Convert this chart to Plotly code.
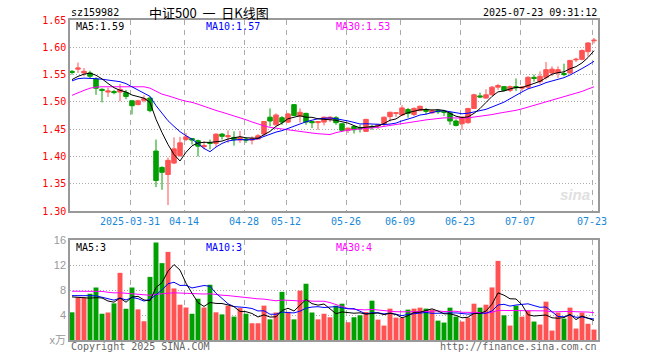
import pandas as pd
import plotly.graph_objects as go

# ---------------- data ----------------
holidays = ["2025-04-04", "2025-05-01", "2025-05-02", "2025-05-05", "2025-06-02"]
dates = [d.strftime("%Y-%m-%d") for d in pd.bdate_range("2025-03-17", "2025-07-23")
         if d.strftime("%Y-%m-%d") not in holidays]

open_ = [1.556, 1.560, 1.553, 1.553, 1.542, 1.523, 1.518, 1.519, 1.518, 1.517,
         1.502, 1.495, 1.503, 1.507, 1.410, 1.380, 1.367, 1.388, 1.402, 1.431,
         1.433, 1.429, 1.418, 1.425, 1.424, 1.441, 1.436, 1.435, 1.430, 1.432,
         1.430, 1.432, 1.441, 1.472, 1.458, 1.471, 1.463, 1.495, 1.474, 1.479,
         1.464, 1.462, 1.463, 1.468, 1.471, 1.460, 1.448, 1.455, 1.453, 1.446,
         1.455, 1.456, 1.460, 1.473, 1.479, 1.476, 1.486, 1.477, 1.484, 1.485,
         1.480, 1.484, 1.483, 1.480, 1.465, 1.460, 1.462, 1.488, 1.511, 1.507,
         1.513, 1.527, 1.528, 1.521, 1.528, 1.525, 1.527, 1.545, 1.537, 1.545,
         1.553, 1.553, 1.552, 1.553, 1.577, 1.578, 1.592, 1.612]
high = [1.558, 1.572, 1.562, 1.557, 1.545, 1.525, 1.526, 1.522, 1.533, 1.522,
        1.503, 1.504, 1.512, 1.510, 1.431, 1.382, 1.398, 1.435, 1.436, 1.443,
        1.434, 1.431, 1.428, 1.431, 1.442, 1.443, 1.448, 1.446, 1.447, 1.435,
        1.437, 1.441, 1.465, 1.488, 1.479, 1.474, 1.480, 1.496, 1.488, 1.480,
        1.465, 1.465, 1.473, 1.474, 1.474, 1.461, 1.453, 1.456, 1.458, 1.469,
        1.458, 1.460, 1.473, 1.482, 1.481, 1.494, 1.489, 1.490, 1.493, 1.489,
        1.486, 1.486, 1.484, 1.483, 1.468, 1.473, 1.489, 1.515, 1.517, 1.523,
        1.529, 1.533, 1.529, 1.530, 1.543, 1.529, 1.547, 1.550, 1.556, 1.573,
        1.565, 1.565, 1.570, 1.577, 1.581, 1.596, 1.609, 1.617]
low = [1.550, 1.553, 1.547, 1.543, 1.513, 1.499, 1.509, 1.514, 1.501, 1.505,
       1.477, 1.494, 1.499, 1.481, 1.344, 1.339, 1.311, 1.386, 1.399, 1.428,
       1.422, 1.400, 1.413, 1.413, 1.418, 1.431, 1.425, 1.420, 1.425, 1.425,
       1.422, 1.431, 1.437, 1.455, 1.457, 1.458, 1.461, 1.474, 1.462, 1.458,
       1.452, 1.449, 1.457, 1.463, 1.458, 1.446, 1.443, 1.442, 1.444, 1.445,
       1.449, 1.450, 1.455, 1.464, 1.472, 1.474, 1.471, 1.474, 1.483, 1.477,
       1.478, 1.478, 1.474, 1.458, 1.455, 1.449, 1.460, 1.487, 1.507, 1.506,
       1.512, 1.522, 1.519, 1.518, 1.520, 1.520, 1.524, 1.537, 1.533, 1.541,
       1.547, 1.544, 1.547, 1.551, 1.573, 1.576, 1.583, 1.607]
close = [1.554, 1.562, 1.556, 1.547, 1.525, 1.521, 1.520, 1.517, 1.523, 1.510,
         1.493, 1.502, 1.506, 1.484, 1.356, 1.371, 1.393, 1.414, 1.425, 1.436,
         1.430, 1.419, 1.420, 1.424, 1.441, 1.437, 1.438, 1.431, 1.435, 1.430,
         1.433, 1.438, 1.464, 1.465, 1.476, 1.463, 1.478, 1.475, 1.481, 1.463,
         1.462, 1.464, 1.472, 1.472, 1.462, 1.448, 1.452, 1.449, 1.451, 1.468,
         1.453, 1.458, 1.472, 1.481, 1.480, 1.489, 1.479, 1.488, 1.492, 1.483,
         1.484, 1.482, 1.481, 1.465, 1.457, 1.472, 1.488, 1.513, 1.509, 1.513,
         1.527, 1.530, 1.521, 1.528, 1.526, 1.527, 1.545, 1.543, 1.547, 1.559,
         1.560, 1.559, 1.550, 1.576, 1.578, 1.594, 1.608, 1.613]
volume = [4.43, 6.82, 6.80, 7.40, 8.40, 4.20, 4.40, 5.86, 10.75, 5.00,
          8.40, 4.90, 3.00, 10.10, 15.60, 12.30, 14.10, 8.25, 5.65, 5.20,
          4.20, 6.60, 5.20, 8.84, 4.43, 4.10, 5.50, 3.74, 5.10, 4.20,
          2.68, 2.68, 5.50, 3.30, 4.40, 7.70, 4.50, 3.30, 7.90, 9.00,
          4.40, 3.30, 4.20, 3.64, 5.49, 5.81, 2.84, 3.64, 3.95, 4.48,
          6.29, 3.26, 2.31, 5.02, 3.58, 3.58, 4.86, 5.02, 5.18, 5.02,
          4.86, 3.10, 2.79, 5.18, 3.74, 2.95, 3.58, 5.81, 5.18, 5.65,
          8.41, 12.66, 3.95, 2.31, 5.49, 3.74, 4.70, 2.95, 2.47, 6.13,
          1.51, 4.39, 3.42, 5.18, 1.83, 4.39, 2.60, 1.67]
# sessions before the visible window (estimated from the starting MA lines)
hist_close = [1.412, 1.436, 1.427, 1.465, 1.503, 1.520, 1.517, 1.523, 1.510, 1.493,
              1.502, 1.506, 1.559, 1.536, 1.521, 1.483, 1.534, 1.515, 1.526, 1.490,
              1.522, 1.546, 1.547, 1.535, 1.531, 1.532, 1.536, 1.537, 1.545]
hist_volume = [6.8, 6.8, 7.4, 8.4, 5.0, 8.5, 9.0, 10.0, 8.0, 10.5,
               8.0, 6.0, 11.0, 11.0, 9.3, 11.1, 6.75, 7.15, 6.7, 5.7,
               6.5, 7.0, 7.6, 8.6, 6.8, 7.3, 7.3, 7.4, 8.05]
tick_dates = ["2025-03-31", "2025-04-14", "2025-04-28", "2025-05-12", "2025-05-26",
              "2025-06-09", "2025-06-23", "2025-07-07", "2025-07-23"]
price_ticks = [1.30, 1.35, 1.40, 1.45, 1.50, 1.55, 1.60, 1.65]
vol_ticks = [0, 4, 8, 12, 16]

# ---------------- helpers ----------------
def moving_avg(hist, vals, n):
    s = pd.Series(list(hist) + list(vals))
    return s.rolling(n).mean().iloc[len(hist):].tolist()

RED = "#ff5252"
GREEN = "#00a000"
BLUE = "#0000ff"
MAG = "#ff00ff"
MONO = "DejaVu Sans Mono"

W, H = 660, 360
L, R, T, B = 70, 62, 20, 20
PW, PH = W - L - R, H - T - B

def px(xp):
    return (xp - L) / PW

def py(yp):
    return (H - B - yp) / PH

n = len(dates)
x = list(range(n))
ma5 = moving_avg(hist_close, close, 5)
ma10 = moving_avg(hist_close, close, 10)
ma30 = moving_avg(hist_close, close, 30)
vma5 = moving_avg(hist_volume, volume, 5)
vma10 = moving_avg(hist_volume, volume, 10)
vma30 = moving_avg(hist_volume, volume, 30)
bar_colors = [RED if c >= o else GREEN for o, c in zip(open_, close)]

fig = go.Figure()
fig.add_trace(go.Candlestick(
    x=x, open=open_, high=high, low=low, close=close,
    increasing=dict(line=dict(color=RED, width=1), fillcolor=RED),
    decreasing=dict(line=dict(color=GREEN, width=1), fillcolor=GREEN),
    whiskerwidth=0, xaxis="x", yaxis="y", hoverinfo="skip"))
for vals, col in [(ma30, MAG), (ma10, BLUE), (ma5, "black")]:
    fig.add_trace(go.Scatter(x=x, y=vals, mode="lines", line=dict(color=col, width=1),
                             xaxis="x", yaxis="y", hoverinfo="skip"))
fig.add_trace(go.Bar(x=x, y=volume, marker=dict(color=bar_colors, line=dict(width=0)),
                     width=0.82, xaxis="x2", yaxis="y2", hoverinfo="skip"))
for vals, col in [(vma30, MAG), (vma10, BLUE), (vma5, "black")]:
    fig.add_trace(go.Scatter(x=x, y=vals, mode="lines", line=dict(color=col, width=1),
                             xaxis="x2", yaxis="y2", hoverinfo="skip"))

tickpos = [dates.index(d) - 1 / 3 for d in tick_dates]
ticktxt = [d if k == 0 else d[5:] for k, d in enumerate(tick_dates)]
xr = [-1 / 3, n - 1 / 3]
frame = dict(showline=True, mirror=True, linecolor="#999999", linewidth=1.5, zeroline=False)

price_bottom = (H - B - (T + (1.65 - 1.30) * 546)) / PH
vol_top = 100 / PH

fig.update_layout(
    width=W, height=H, margin=dict(l=L, r=R, t=T, b=B), autosize=False,
    paper_bgcolor="white", plot_bgcolor="white", showlegend=False, hovermode=False,
    boxgap=0.25, boxgroupgap=0,
    xaxis=dict(domain=[0, 1], range=xr, anchor="y", tickvals=tickpos, ticktext=ticktxt,
               showgrid=True, gridcolor="#aaaaaa", griddash="5px,5px", gridwidth=1,
               ticks="",
               tickfont=dict(family=MONO, size=10, color="#1a88d8"),
               rangeslider=dict(visible=False), **frame),
    xaxis2=dict(domain=[0, 1], range=xr, anchor="y2", matches="x", tickvals=tickpos,
                showticklabels=False, showgrid=True, gridcolor="#aaaaaa",
                griddash="5px,5px", gridwidth=1, **frame),
    yaxis=dict(domain=[price_bottom, 1], range=[1.30, 1.65], tickvals=price_ticks,
               ticktext=["%.2f" % v for v in price_ticks],
               showgrid=True, gridcolor="#aaaaaa", griddash="1px,2px", gridwidth=1,
               ticks="",
               tickfont=dict(family=MONO, size=10, color="#ff0000"), **frame),
    yaxis2=dict(domain=[0, vol_top], range=[0, 16], tickvals=vol_ticks,
                ticktext=["x万"] + [str(v) for v in vol_ticks[1:]],
                showgrid=True, gridcolor="#aaaaaa", griddash="1px,2px", gridwidth=1,
                ticks="",
                tickfont=dict(family="Liberation Sans, Noto Sans CJK SC", size=11, color="#999999"),
                **frame),
)

def note(text, xp, yp, color="black", anchor="left", size=10, family=MONO):
    fig.add_annotation(text=text, x=px(xp), y=py(yp), xref="paper", yref="paper",
                       xanchor=anchor, yanchor="middle", showarrow=False,
                       font=dict(family=family, size=size, color=color))

note("sz159982", 69, 13)
note("中证500&nbsp;&nbsp;一&nbsp;&nbsp;日K线图", 209, 12, anchor="center", size=13,
     family="Noto Sans CJK SC")
note("2025-07-23 09:31:12", 599, 12.5, anchor="right")
note("MA5:%.2f" % ma5[-1], 74, 26)
note("MA10:%.2f" % ma10[-1], 204, 26, color=BLUE)
note("MA30:%.2f" % ma30[-1], 334, 26, color=MAG)
note("MA5:%d" % round(vma5[-1]), 74, 247)
note("MA10:%d" % round(vma10[-1]), 204, 247, color=BLUE)
note("MA30:%d" % round(vma30[-1]), 334, 247, color=MAG)
note("Copyright 2025 SINA.COM", 69, 346, color="#666666")
note("http://finance.sina.com.cn", 599, 346, color="#666666", anchor="right")
note("<i><b>sina</b></i>", 575, 194, color="#e0e0e0", anchor="center", size=15,
     family="Liberation Sans")

fig.write_html("out.html", config=dict(displayModeBar=False),
               post_script="document.body.style.margin='0';")
